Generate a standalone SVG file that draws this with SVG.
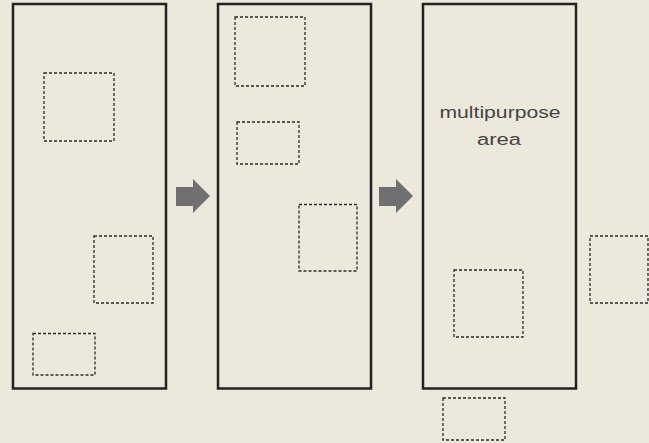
<svg xmlns="http://www.w3.org/2000/svg" width="649" height="443" viewBox="0 0 649 443">
<style>
.panel{fill:none;stroke:#222;stroke-width:2.5}
.zone{fill:none;stroke:#2a2a2a;stroke-width:1.3;stroke-dasharray:3 2}
.arrow{fill:#707070}
.lbl{font-family:"Liberation Sans",Arial,sans-serif;font-size:16px;fill:#444;text-anchor:middle}
</style>
<rect width="649" height="443" fill="#ede8dc"/>
<g id="panel1">
<rect class="panel" x="13" y="4" width="153" height="384.5"/>
<rect class="zone" x="44" y="73" width="70" height="68"/>
<rect class="zone" x="94" y="236" width="59" height="67"/>
<rect class="zone" x="33" y="333.5" width="62" height="41.5"/>
</g>
<g id="panel2">
<rect class="panel" x="218" y="4" width="153" height="384.5"/>
<rect class="zone" x="235" y="17" width="70" height="69"/>
<rect class="zone" x="237" y="122" width="62" height="42"/>
<rect class="zone" x="299" y="204.5" width="58" height="66.5"/>
</g>
<g id="panel3">
<rect class="panel" x="423" y="4" width="153" height="384.5"/>
<text class="lbl" x="500" y="118" textLength="121" lengthAdjust="spacingAndGlyphs">multipurpose</text>
<text class="lbl" x="499" y="145" textLength="44" lengthAdjust="spacingAndGlyphs">area</text>
<rect class="zone" x="454" y="270" width="69" height="67"/>
</g>
<g id="outside">
<rect class="zone" x="443" y="398" width="62" height="42"/>
<rect class="zone" x="590" y="236" width="58" height="67"/>
</g>
<g id="connectors">
<polygon class="arrow" points="176,187 193,187 193,179 210,196 193,213 193,206 176,206"/>
<polygon class="arrow" points="379,187 396,187 396,179 413,196 396,213 396,206 379,206"/>
</g>
</svg>
